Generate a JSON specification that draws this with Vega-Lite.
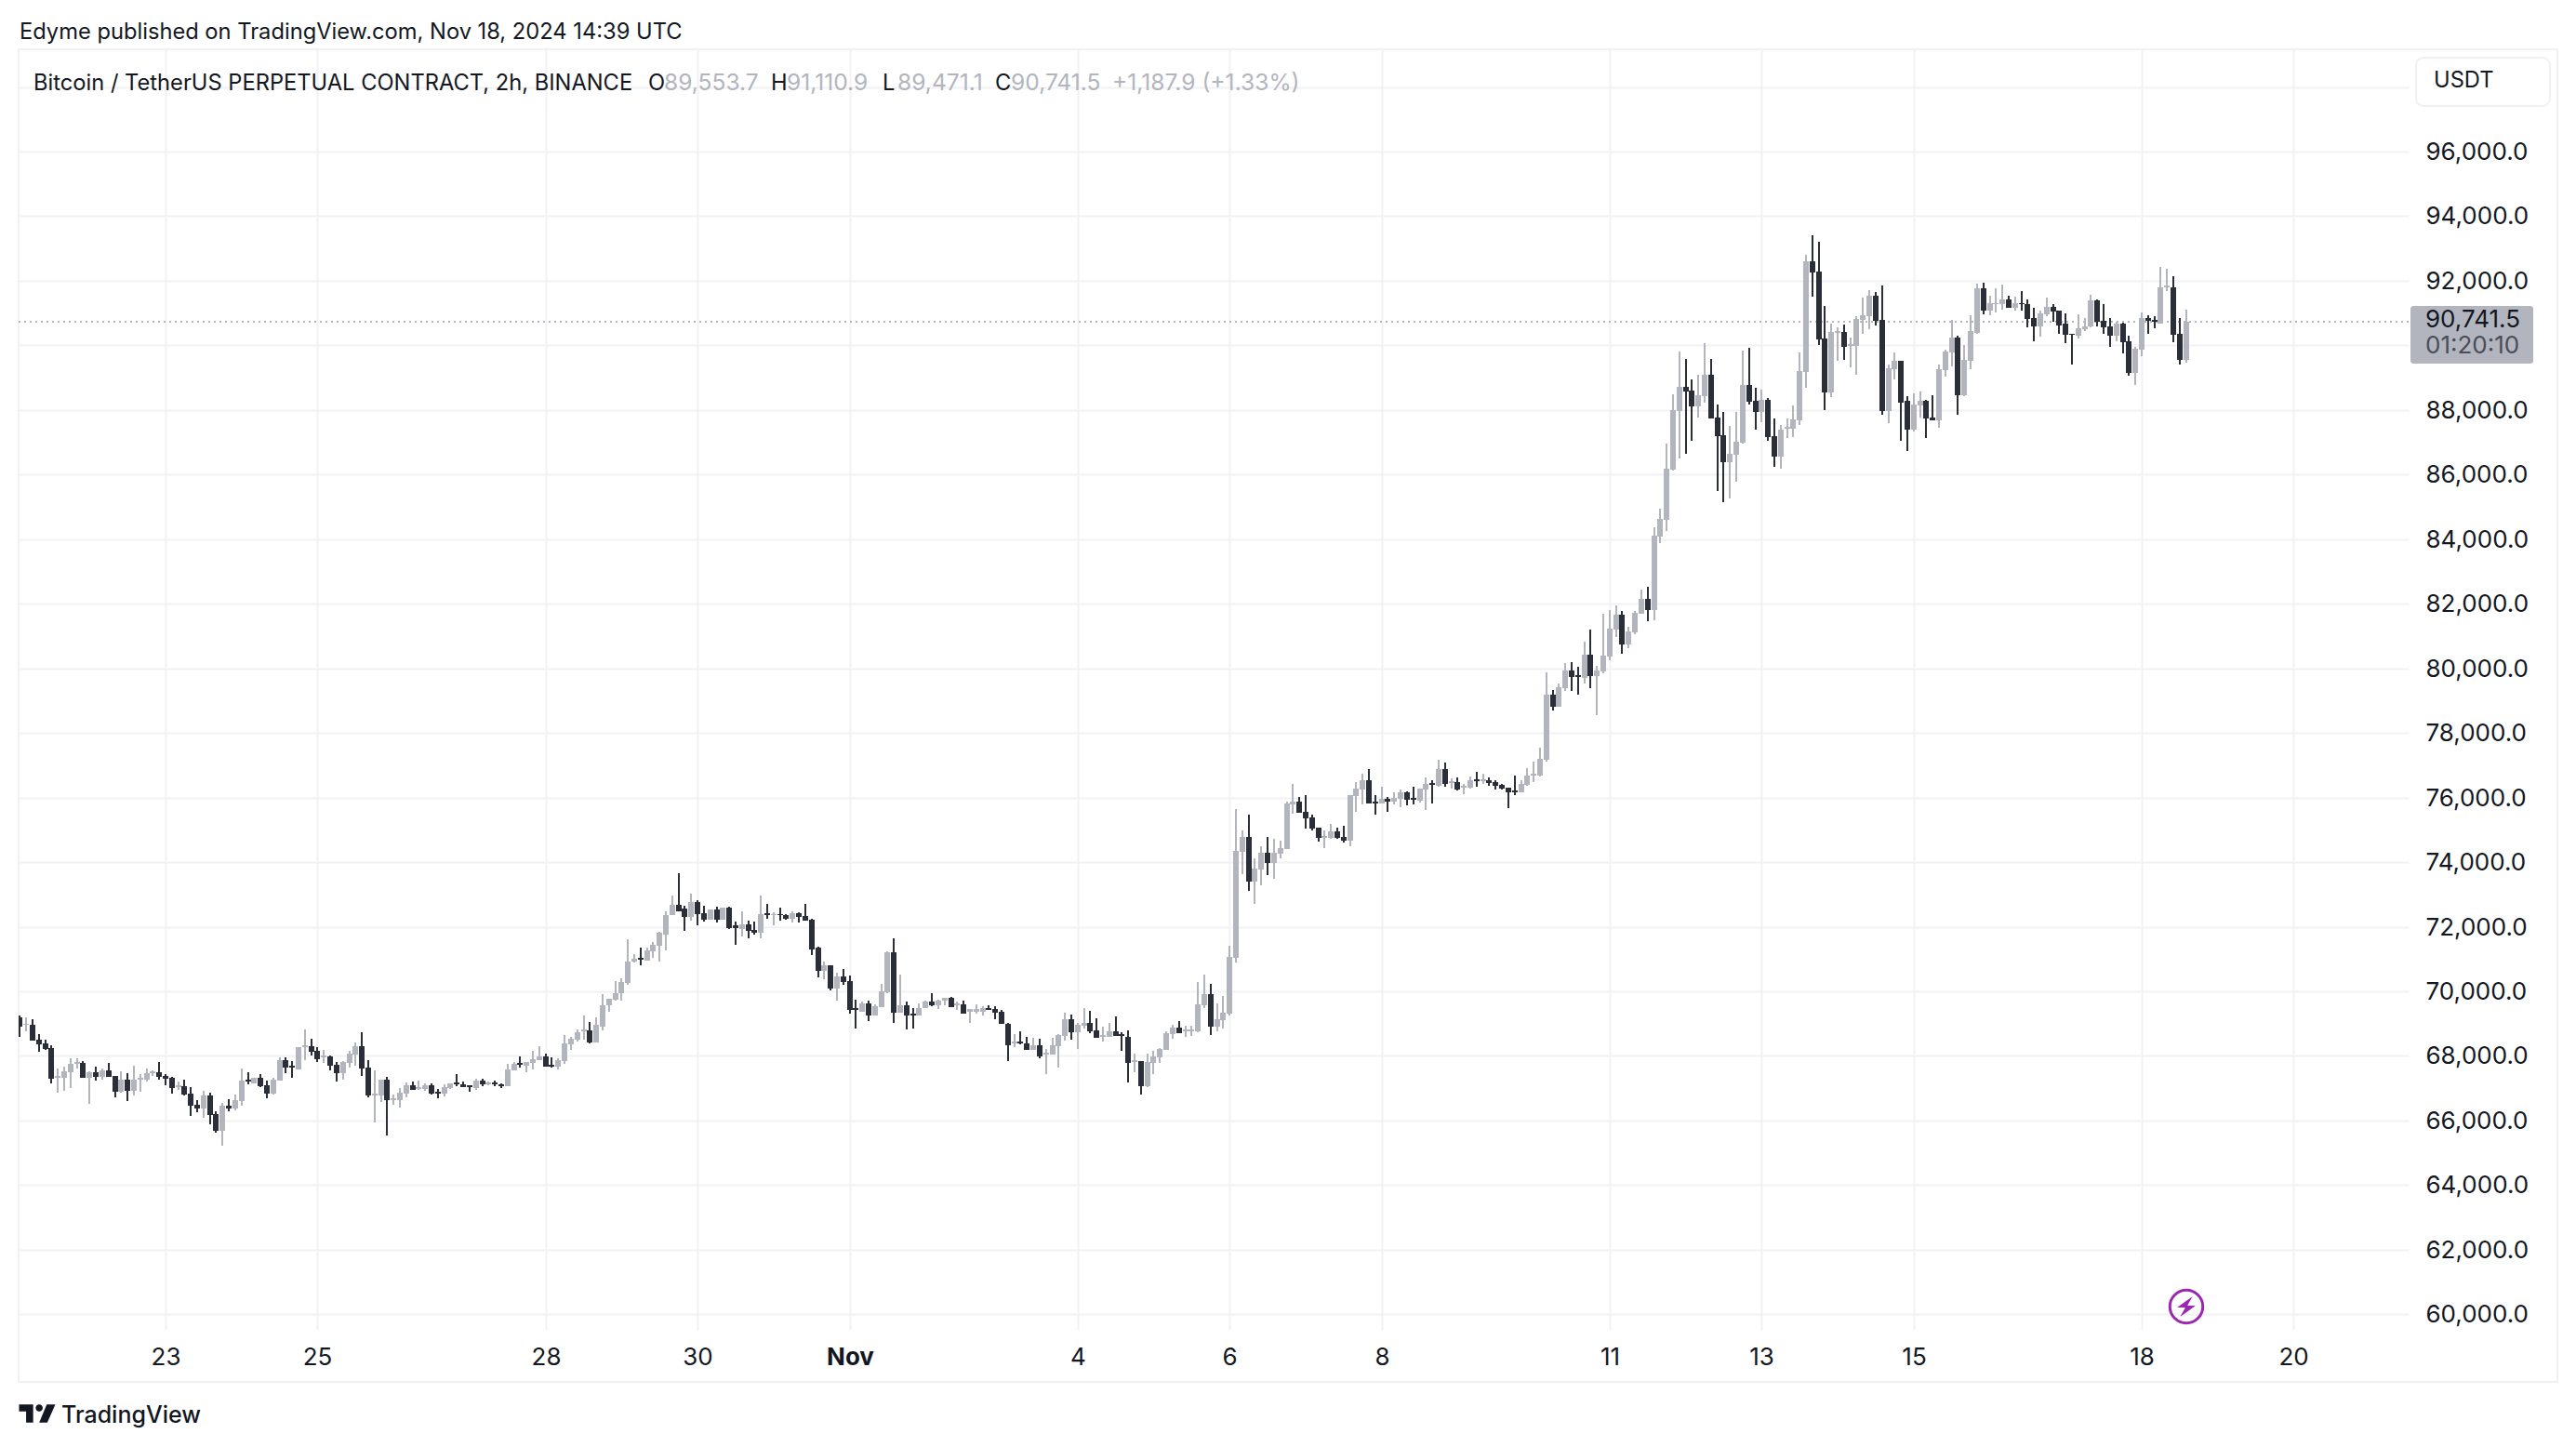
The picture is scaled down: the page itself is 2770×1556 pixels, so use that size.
{"$schema":"https://vega.github.io/schema/vega-lite/v6.json","width":2570,"height":1377,"autosize":{"type":"none"},"padding":{"left":20,"top":53,"right":180,"bottom":126},"background":"white","config":{"view":{"stroke":null},"font":"Inter"},
"datasets":{"candles":[
{"t":"2024-10-21T02:00Z","o":69200,"h":69250,"l":68600,"c":68910},
{"t":"2024-10-21T04:00Z","o":68950,"h":69190,"l":68770,"c":69000},
{"t":"2024-10-21T06:00Z","o":68970,"h":69140,"l":68470,"c":68480},
{"t":"2024-10-21T08:00Z","o":68510,"h":68680,"l":68130,"c":68360},
{"t":"2024-10-21T10:00Z","o":68390,"h":68500,"l":68200,"c":68210},
{"t":"2024-10-21T12:00Z","o":68240,"h":68330,"l":67150,"c":67300},
{"t":"2024-10-21T14:00Z","o":67330,"h":67620,"l":66870,"c":67390},
{"t":"2024-10-21T16:00Z","o":67330,"h":67670,"l":66920,"c":67530},
{"t":"2024-10-21T18:00Z","o":67500,"h":67920,"l":67010,"c":67760},
{"t":"2024-10-21T20:00Z","o":67760,"h":67920,"l":67620,"c":67820},
{"t":"2024-10-21T22:00Z","o":67780,"h":67840,"l":67330,"c":67330},
{"t":"2024-10-22T00:00Z","o":67330,"h":67530,"l":66520,"c":67500},
{"t":"2024-10-22T02:00Z","o":67500,"h":67670,"l":67240,"c":67360},
{"t":"2024-10-22T04:00Z","o":67360,"h":67620,"l":67270,"c":67560},
{"t":"2024-10-22T06:00Z","o":67560,"h":67790,"l":67360,"c":67360},
{"t":"2024-10-22T08:00Z","o":67390,"h":67390,"l":66720,"c":66900},
{"t":"2024-10-22T10:00Z","o":66900,"h":67530,"l":66870,"c":67270},
{"t":"2024-10-22T12:00Z","o":67270,"h":67470,"l":66610,"c":66920},
{"t":"2024-10-22T14:00Z","o":66920,"h":67700,"l":66780,"c":67270},
{"t":"2024-10-22T16:00Z","o":67270,"h":67440,"l":66900,"c":67330},
{"t":"2024-10-22T18:00Z","o":67270,"h":67620,"l":67210,"c":67470},
{"t":"2024-10-22T20:00Z","o":67470,"h":67560,"l":67390,"c":67530},
{"t":"2024-10-22T22:00Z","o":67500,"h":67820,"l":67270,"c":67360},
{"t":"2024-10-23T00:00Z","o":67390,"h":67440,"l":67100,"c":67300},
{"t":"2024-10-23T02:00Z","o":67330,"h":67360,"l":66840,"c":67010},
{"t":"2024-10-23T04:00Z","o":67040,"h":67210,"l":66950,"c":67090},
{"t":"2024-10-23T06:00Z","o":67070,"h":67270,"l":66780,"c":66810},
{"t":"2024-10-23T08:00Z","o":66840,"h":67040,"l":66150,"c":66460},
{"t":"2024-10-23T10:00Z","o":66490,"h":66640,"l":66260,"c":66380},
{"t":"2024-10-23T12:00Z","o":66380,"h":66920,"l":66090,"c":66780},
{"t":"2024-10-23T14:00Z","o":66780,"h":66870,"l":65890,"c":66180},
{"t":"2024-10-23T16:00Z","o":66200,"h":66290,"l":65630,"c":65690},
{"t":"2024-10-23T18:00Z","o":65690,"h":66550,"l":65230,"c":66460},
{"t":"2024-10-23T20:00Z","o":66460,"h":66670,"l":66290,"c":66380},
{"t":"2024-10-23T22:00Z","o":66380,"h":66810,"l":66320,"c":66640},
{"t":"2024-10-24T00:00Z","o":66610,"h":67620,"l":66460,"c":67240},
{"t":"2024-10-24T02:00Z","o":67270,"h":67500,"l":67130,"c":67210},
{"t":"2024-10-24T04:00Z","o":67150,"h":67330,"l":67150,"c":67330},
{"t":"2024-10-24T06:00Z","o":67330,"h":67440,"l":67040,"c":67070},
{"t":"2024-10-24T08:00Z","o":67100,"h":67240,"l":66690,"c":66840},
{"t":"2024-10-24T10:00Z","o":66840,"h":67330,"l":66810,"c":67270},
{"t":"2024-10-24T12:00Z","o":67240,"h":67960,"l":67240,"c":67880},
{"t":"2024-10-24T14:00Z","o":67880,"h":67960,"l":67470,"c":67640},
{"t":"2024-10-24T16:00Z","o":67700,"h":67850,"l":67330,"c":67640},
{"t":"2024-10-24T18:00Z","o":67590,"h":68280,"l":67590,"c":68280},
{"t":"2024-10-24T20:00Z","o":68280,"h":68830,"l":67880,"c":68340},
{"t":"2024-10-24T22:00Z","o":68310,"h":68540,"l":68020,"c":68130},
{"t":"2024-10-25T00:00Z","o":68160,"h":68280,"l":67820,"c":67900},
{"t":"2024-10-25T02:00Z","o":67960,"h":68190,"l":67790,"c":68020},
{"t":"2024-10-25T04:00Z","o":67990,"h":68020,"l":67560,"c":67700},
{"t":"2024-10-25T06:00Z","o":67730,"h":67820,"l":67210,"c":67470},
{"t":"2024-10-25T08:00Z","o":67470,"h":67850,"l":67270,"c":67820},
{"t":"2024-10-25T10:00Z","o":67790,"h":68160,"l":67640,"c":68080},
{"t":"2024-10-25T12:00Z","o":68050,"h":68420,"l":67700,"c":68310},
{"t":"2024-10-25T14:00Z","o":68310,"h":68740,"l":67390,"c":67620},
{"t":"2024-10-25T16:00Z","o":67640,"h":67880,"l":66720,"c":66780},
{"t":"2024-10-25T18:00Z","o":66780,"h":67560,"l":65950,"c":66840},
{"t":"2024-10-25T20:00Z","o":66780,"h":67270,"l":66580,"c":67270},
{"t":"2024-10-25T22:00Z","o":67270,"h":67360,"l":65540,"c":66640},
{"t":"2024-10-26T00:00Z","o":66640,"h":66810,"l":66490,"c":66690},
{"t":"2024-10-26T02:00Z","o":66640,"h":67010,"l":66410,"c":66870},
{"t":"2024-10-26T04:00Z","o":66840,"h":67180,"l":66720,"c":67100},
{"t":"2024-10-26T06:00Z","o":67100,"h":67210,"l":66950,"c":66950},
{"t":"2024-10-26T08:00Z","o":66980,"h":67240,"l":66950,"c":67040},
{"t":"2024-10-26T10:00Z","o":66980,"h":67150,"l":66920,"c":67100},
{"t":"2024-10-26T12:00Z","o":67100,"h":67150,"l":66810,"c":66840},
{"t":"2024-10-26T14:00Z","o":66900,"h":66980,"l":66690,"c":66840},
{"t":"2024-10-26T16:00Z","o":66840,"h":67130,"l":66750,"c":67040},
{"t":"2024-10-26T18:00Z","o":67010,"h":67150,"l":66980,"c":67150},
{"t":"2024-10-26T20:00Z","o":67180,"h":67440,"l":67070,"c":67130},
{"t":"2024-10-26T22:00Z","o":67130,"h":67210,"l":67040,"c":67040},
{"t":"2024-10-27T00:00Z","o":67100,"h":67100,"l":66900,"c":67040},
{"t":"2024-10-27T02:00Z","o":67010,"h":67300,"l":66950,"c":67240},
{"t":"2024-10-27T04:00Z","o":67240,"h":67300,"l":67070,"c":67130},
{"t":"2024-10-27T06:00Z","o":67130,"h":67210,"l":67100,"c":67180},
{"t":"2024-10-27T08:00Z","o":67180,"h":67240,"l":67070,"c":67130},
{"t":"2024-10-27T10:00Z","o":67130,"h":67150,"l":67010,"c":67070},
{"t":"2024-10-27T12:00Z","o":67070,"h":67760,"l":67070,"c":67590},
{"t":"2024-10-27T14:00Z","o":67560,"h":67820,"l":67560,"c":67760},
{"t":"2024-10-27T16:00Z","o":67790,"h":67990,"l":67640,"c":67730},
{"t":"2024-10-27T18:00Z","o":67700,"h":67820,"l":67500,"c":67820},
{"t":"2024-10-27T20:00Z","o":67790,"h":68160,"l":67590,"c":67900},
{"t":"2024-10-27T22:00Z","o":67880,"h":68310,"l":67880,"c":67990},
{"t":"2024-10-28T00:00Z","o":67990,"h":68080,"l":67670,"c":67670},
{"t":"2024-10-28T02:00Z","o":67730,"h":67960,"l":67640,"c":67670},
{"t":"2024-10-28T04:00Z","o":67670,"h":67930,"l":67590,"c":67880},
{"t":"2024-10-28T06:00Z","o":67850,"h":68650,"l":67760,"c":68390},
{"t":"2024-10-28T08:00Z","o":68360,"h":68600,"l":68190,"c":68540},
{"t":"2024-10-28T10:00Z","o":68510,"h":68830,"l":68450,"c":68740},
{"t":"2024-10-28T12:00Z","o":68770,"h":69260,"l":68510,"c":68830},
{"t":"2024-10-28T14:00Z","o":68800,"h":69060,"l":68390,"c":68420},
{"t":"2024-10-28T16:00Z","o":68430,"h":69180,"l":68430,"c":68950},
{"t":"2024-10-28T18:00Z","o":68920,"h":69900,"l":68800,"c":69580},
{"t":"2024-10-28T20:00Z","o":69580,"h":69780,"l":69380,"c":69780},
{"t":"2024-10-28T22:00Z","o":69750,"h":70330,"l":69700,"c":69950},
{"t":"2024-10-29T00:00Z","o":69930,"h":70390,"l":69720,"c":70300},
{"t":"2024-10-29T02:00Z","o":70270,"h":71600,"l":70190,"c":70930},
{"t":"2024-10-29T04:00Z","o":70910,"h":71140,"l":70880,"c":71020},
{"t":"2024-10-29T06:00Z","o":71050,"h":71340,"l":70820,"c":70990},
{"t":"2024-10-29T08:00Z","o":70960,"h":71340,"l":70960,"c":71280},
{"t":"2024-10-29T10:00Z","o":71250,"h":71540,"l":71050,"c":71450},
{"t":"2024-10-29T12:00Z","o":71420,"h":71830,"l":70910,"c":71800},
{"t":"2024-10-29T14:00Z","o":71770,"h":72490,"l":71280,"c":72370},
{"t":"2024-10-29T16:00Z","o":72350,"h":72980,"l":72350,"c":72690},
{"t":"2024-10-29T18:00Z","o":72690,"h":73670,"l":72490,"c":72490},
{"t":"2024-10-29T20:00Z","o":72550,"h":72660,"l":71880,"c":72290},
{"t":"2024-10-29T22:00Z","o":72290,"h":73010,"l":72200,"c":72750},
{"t":"2024-10-30T00:00Z","o":72750,"h":72810,"l":72030,"c":72400},
{"t":"2024-10-30T02:00Z","o":72430,"h":72660,"l":72170,"c":72230},
{"t":"2024-10-30T04:00Z","o":72230,"h":72520,"l":72230,"c":72520},
{"t":"2024-10-30T06:00Z","o":72520,"h":72630,"l":72120,"c":72230},
{"t":"2024-10-30T08:00Z","o":72230,"h":72600,"l":72230,"c":72600},
{"t":"2024-10-30T10:00Z","o":72600,"h":72630,"l":71940,"c":71970},
{"t":"2024-10-30T12:00Z","o":72030,"h":72170,"l":71450,"c":71970},
{"t":"2024-10-30T14:00Z","o":71940,"h":72490,"l":71710,"c":72060},
{"t":"2024-10-30T16:00Z","o":72060,"h":72200,"l":71650,"c":71880},
{"t":"2024-10-30T18:00Z","o":71910,"h":72170,"l":71770,"c":71800},
{"t":"2024-10-30T20:00Z","o":71800,"h":72980,"l":71630,"c":72400},
{"t":"2024-10-30T22:00Z","o":72430,"h":72720,"l":72260,"c":72370},
{"t":"2024-10-31T00:00Z","o":72350,"h":72460,"l":72030,"c":72400},
{"t":"2024-10-31T02:00Z","o":72400,"h":72600,"l":72200,"c":72350},
{"t":"2024-10-31T04:00Z","o":72370,"h":72400,"l":72230,"c":72260},
{"t":"2024-10-31T06:00Z","o":72260,"h":72490,"l":72140,"c":72430},
{"t":"2024-10-31T08:00Z","o":72430,"h":72460,"l":72140,"c":72290},
{"t":"2024-10-31T10:00Z","o":72320,"h":72720,"l":72200,"c":72200},
{"t":"2024-10-31T12:00Z","o":72230,"h":72260,"l":71110,"c":71310},
{"t":"2024-10-31T14:00Z","o":71340,"h":71370,"l":70440,"c":70620},
{"t":"2024-10-31T16:00Z","o":70620,"h":70930,"l":70360,"c":70820},
{"t":"2024-10-31T18:00Z","o":70820,"h":70820,"l":70040,"c":70100},
{"t":"2024-10-31T20:00Z","o":70100,"h":70590,"l":69700,"c":70470},
{"t":"2024-10-31T22:00Z","o":70470,"h":70680,"l":70190,"c":70300},
{"t":"2024-11-01T00:00Z","o":70330,"h":70500,"l":69320,"c":69410},
{"t":"2024-11-01T02:00Z","o":69470,"h":69750,"l":68860,"c":69410},
{"t":"2024-11-01T04:00Z","o":69380,"h":69670,"l":69380,"c":69640},
{"t":"2024-11-01T06:00Z","o":69640,"h":69720,"l":69090,"c":69260},
{"t":"2024-11-01T08:00Z","o":69260,"h":69610,"l":69260,"c":69550},
{"t":"2024-11-01T10:00Z","o":69520,"h":70240,"l":69520,"c":70010},
{"t":"2024-11-01T12:00Z","o":69980,"h":71250,"l":69930,"c":71220},
{"t":"2024-11-01T14:00Z","o":71220,"h":71650,"l":69030,"c":69350},
{"t":"2024-11-01T16:00Z","o":69350,"h":70530,"l":69350,"c":69580},
{"t":"2024-11-01T18:00Z","o":69580,"h":69670,"l":68830,"c":69260},
{"t":"2024-11-01T20:00Z","o":69320,"h":69470,"l":68860,"c":69260},
{"t":"2024-11-01T22:00Z","o":69240,"h":69640,"l":69240,"c":69490},
{"t":"2024-11-02T00:00Z","o":69470,"h":69700,"l":69470,"c":69670},
{"t":"2024-11-02T02:00Z","o":69670,"h":69930,"l":69550,"c":69580},
{"t":"2024-11-02T04:00Z","o":69580,"h":69750,"l":69440,"c":69720},
{"t":"2024-11-02T06:00Z","o":69700,"h":69810,"l":69580,"c":69810},
{"t":"2024-11-02T08:00Z","o":69810,"h":69840,"l":69520,"c":69520},
{"t":"2024-11-02T10:00Z","o":69580,"h":69670,"l":69410,"c":69640},
{"t":"2024-11-02T12:00Z","o":69610,"h":69700,"l":69320,"c":69320},
{"t":"2024-11-02T14:00Z","o":69380,"h":69440,"l":69030,"c":69440},
{"t":"2024-11-02T16:00Z","o":69380,"h":69610,"l":69320,"c":69440},
{"t":"2024-11-02T18:00Z","o":69380,"h":69550,"l":69240,"c":69490},
{"t":"2024-11-02T20:00Z","o":69490,"h":69580,"l":69410,"c":69410},
{"t":"2024-11-02T22:00Z","o":69440,"h":69550,"l":69150,"c":69350},
{"t":"2024-11-03T00:00Z","o":69380,"h":69410,"l":68980,"c":68980},
{"t":"2024-11-03T02:00Z","o":68990,"h":69020,"l":67840,"c":68330},
{"t":"2024-11-03T04:00Z","o":68390,"h":68680,"l":68270,"c":68440},
{"t":"2024-11-03T06:00Z","o":68440,"h":68760,"l":68360,"c":68390},
{"t":"2024-11-03T08:00Z","o":68390,"h":68590,"l":68190,"c":68190},
{"t":"2024-11-03T10:00Z","o":68190,"h":68560,"l":68190,"c":68330},
{"t":"2024-11-03T12:00Z","o":68330,"h":68530,"l":67930,"c":67980},
{"t":"2024-11-03T14:00Z","o":68040,"h":68210,"l":67440,"c":68100},
{"t":"2024-11-03T16:00Z","o":68040,"h":68560,"l":68040,"c":68330},
{"t":"2024-11-03T18:00Z","o":68300,"h":68680,"l":67640,"c":68650},
{"t":"2024-11-03T20:00Z","o":68620,"h":69340,"l":68470,"c":69140},
{"t":"2024-11-03T22:00Z","o":69140,"h":69280,"l":68500,"c":68730},
{"t":"2024-11-04T00:00Z","o":68730,"h":69020,"l":68210,"c":68960},
{"t":"2024-11-04T02:00Z","o":68930,"h":69480,"l":68850,"c":69020},
{"t":"2024-11-04T04:00Z","o":69020,"h":69400,"l":68700,"c":68760},
{"t":"2024-11-04T06:00Z","o":68790,"h":69160,"l":68560,"c":68560},
{"t":"2024-11-04T08:00Z","o":68590,"h":68910,"l":68440,"c":68650},
{"t":"2024-11-04T10:00Z","o":68590,"h":69020,"l":68590,"c":68760},
{"t":"2024-11-04T12:00Z","o":68760,"h":69220,"l":68620,"c":68620},
{"t":"2024-11-04T14:00Z","o":68680,"h":68730,"l":68160,"c":68620},
{"t":"2024-11-04T16:00Z","o":68590,"h":68790,"l":67180,"c":67780},
{"t":"2024-11-04T18:00Z","o":67810,"h":68070,"l":67490,"c":67870},
{"t":"2024-11-04T20:00Z","o":67840,"h":67840,"l":66800,"c":67060},
{"t":"2024-11-04T22:00Z","o":67060,"h":68070,"l":67030,"c":67810},
{"t":"2024-11-05T00:00Z","o":67780,"h":68160,"l":67440,"c":67980},
{"t":"2024-11-05T02:00Z","o":67960,"h":68240,"l":67780,"c":68210},
{"t":"2024-11-05T04:00Z","o":68190,"h":68760,"l":68190,"c":68700},
{"t":"2024-11-05T06:00Z","o":68680,"h":68960,"l":68530,"c":68880},
{"t":"2024-11-05T08:00Z","o":68880,"h":69080,"l":68700,"c":68700},
{"t":"2024-11-05T10:00Z","o":68760,"h":68930,"l":68590,"c":68820},
{"t":"2024-11-05T12:00Z","o":68760,"h":68930,"l":68620,"c":68820},
{"t":"2024-11-05T14:00Z","o":68760,"h":70290,"l":68730,"c":69600},
{"t":"2024-11-05T16:00Z","o":69570,"h":70520,"l":69480,"c":69910},
{"t":"2024-11-05T18:00Z","o":69910,"h":70230,"l":68650,"c":68910},
{"t":"2024-11-05T20:00Z","o":68910,"h":69630,"l":68760,"c":69140},
{"t":"2024-11-05T22:00Z","o":69110,"h":69860,"l":68850,"c":69340},
{"t":"2024-11-06T00:00Z","o":69310,"h":71410,"l":69250,"c":71070},
{"t":"2024-11-06T02:00Z","o":71040,"h":75650,"l":70900,"c":74350},
{"t":"2024-11-06T04:00Z","o":74320,"h":74980,"l":73630,"c":74780},
{"t":"2024-11-06T06:00Z","o":74780,"h":75470,"l":73110,"c":73400},
{"t":"2024-11-06T08:00Z","o":73400,"h":74120,"l":72710,"c":73800},
{"t":"2024-11-06T10:00Z","o":73770,"h":74490,"l":73280,"c":74290},
{"t":"2024-11-06T12:00Z","o":74290,"h":74780,"l":73600,"c":73970},
{"t":"2024-11-06T14:00Z","o":73970,"h":74720,"l":73480,"c":74290},
{"t":"2024-11-06T16:00Z","o":74260,"h":74670,"l":74120,"c":74440},
{"t":"2024-11-06T18:00Z","o":74410,"h":75880,"l":74410,"c":75820},
{"t":"2024-11-06T20:00Z","o":75790,"h":76420,"l":75500,"c":75880},
{"t":"2024-11-06T22:00Z","o":75880,"h":76020,"l":75530,"c":75530},
{"t":"2024-11-07T00:00Z","o":75560,"h":76080,"l":75040,"c":75360},
{"t":"2024-11-07T02:00Z","o":75390,"h":75470,"l":74980,"c":75040},
{"t":"2024-11-07T04:00Z","o":75070,"h":75070,"l":74640,"c":74750},
{"t":"2024-11-07T06:00Z","o":74750,"h":74980,"l":74440,"c":74810},
{"t":"2024-11-07T08:00Z","o":74750,"h":75180,"l":74720,"c":74950},
{"t":"2024-11-07T10:00Z","o":74950,"h":75070,"l":74720,"c":74750},
{"t":"2024-11-07T12:00Z","o":74780,"h":75130,"l":74610,"c":74670},
{"t":"2024-11-07T14:00Z","o":74670,"h":76080,"l":74490,"c":76080},
{"t":"2024-11-07T16:00Z","o":76050,"h":76480,"l":75560,"c":76280},
{"t":"2024-11-07T18:00Z","o":76250,"h":76740,"l":75790,"c":76540},
{"t":"2024-11-07T20:00Z","o":76540,"h":76880,"l":75820,"c":75820},
{"t":"2024-11-07T22:00Z","o":75880,"h":76080,"l":75470,"c":75820},
{"t":"2024-11-08T00:00Z","o":75820,"h":76340,"l":75820,"c":75960},
{"t":"2024-11-08T02:00Z","o":75960,"h":76020,"l":75560,"c":75880},
{"t":"2024-11-08T04:00Z","o":75880,"h":76160,"l":75790,"c":75990},
{"t":"2024-11-08T06:00Z","o":75960,"h":76250,"l":75700,"c":76160},
{"t":"2024-11-08T08:00Z","o":76160,"h":76190,"l":75760,"c":75930},
{"t":"2024-11-08T10:00Z","o":75990,"h":76340,"l":75790,"c":75930},
{"t":"2024-11-08T12:00Z","o":75900,"h":76280,"l":75850,"c":76280},
{"t":"2024-11-08T14:00Z","o":76250,"h":76620,"l":75620,"c":76420},
{"t":"2024-11-08T16:00Z","o":76450,"h":76540,"l":75820,"c":76390},
{"t":"2024-11-08T18:00Z","o":76360,"h":77170,"l":76340,"c":76880},
{"t":"2024-11-08T20:00Z","o":76880,"h":77080,"l":76340,"c":76420},
{"t":"2024-11-08T22:00Z","o":76450,"h":76600,"l":76280,"c":76510},
{"t":"2024-11-09T00:00Z","o":76480,"h":76620,"l":76220,"c":76250},
{"t":"2024-11-09T02:00Z","o":76310,"h":76420,"l":76110,"c":76360},
{"t":"2024-11-09T04:00Z","o":76310,"h":76650,"l":76280,"c":76540},
{"t":"2024-11-09T06:00Z","o":76570,"h":76800,"l":76340,"c":76510},
{"t":"2024-11-09T08:00Z","o":76510,"h":76740,"l":76420,"c":76570},
{"t":"2024-11-09T10:00Z","o":76540,"h":76620,"l":76360,"c":76450},
{"t":"2024-11-09T12:00Z","o":76480,"h":76540,"l":76250,"c":76360},
{"t":"2024-11-09T14:00Z","o":76390,"h":76420,"l":76250,"c":76280},
{"t":"2024-11-09T16:00Z","o":76310,"h":76310,"l":75670,"c":76160},
{"t":"2024-11-09T18:00Z","o":76220,"h":76680,"l":76080,"c":76160},
{"t":"2024-11-09T20:00Z","o":76160,"h":76540,"l":76160,"c":76420},
{"t":"2024-11-09T22:00Z","o":76390,"h":76910,"l":76360,"c":76680},
{"t":"2024-11-10T00:00Z","o":76680,"h":77110,"l":76480,"c":76740},
{"t":"2024-11-10T02:00Z","o":76680,"h":77550,"l":76650,"c":77200},
{"t":"2024-11-10T04:00Z","o":77180,"h":79880,"l":77120,"c":79190},
{"t":"2024-11-10T06:00Z","o":79190,"h":79340,"l":78700,"c":78820},
{"t":"2024-11-10T08:00Z","o":78820,"h":79540,"l":78820,"c":79420},
{"t":"2024-11-10T10:00Z","o":79400,"h":80170,"l":79310,"c":79940},
{"t":"2024-11-10T12:00Z","o":79940,"h":80200,"l":79310,"c":79740},
{"t":"2024-11-10T14:00Z","o":79800,"h":80060,"l":79190,"c":79740},
{"t":"2024-11-10T16:00Z","o":79710,"h":80840,"l":79540,"c":80430},
{"t":"2024-11-10T18:00Z","o":80430,"h":81210,"l":79400,"c":79770},
{"t":"2024-11-10T20:00Z","o":79770,"h":80090,"l":78560,"c":79940},
{"t":"2024-11-10T22:00Z","o":79910,"h":81700,"l":79860,"c":80400},
{"t":"2024-11-11T00:00Z","o":80370,"h":81810,"l":80260,"c":81240},
{"t":"2024-11-11T02:00Z","o":81210,"h":81960,"l":80980,"c":81670},
{"t":"2024-11-11T04:00Z","o":81670,"h":81790,"l":80460,"c":80750},
{"t":"2024-11-11T06:00Z","o":80750,"h":81300,"l":80630,"c":81150},
{"t":"2024-11-11T08:00Z","o":81120,"h":81790,"l":81070,"c":81730},
{"t":"2024-11-11T10:00Z","o":81700,"h":82450,"l":81700,"c":82160},
{"t":"2024-11-11T12:00Z","o":82160,"h":82530,"l":81470,"c":81810},
{"t":"2024-11-11T14:00Z","o":81810,"h":84380,"l":81500,"c":84120},
{"t":"2024-11-11T16:00Z","o":84080,"h":84940,"l":83880,"c":84620},
{"t":"2024-11-11T18:00Z","o":84590,"h":86950,"l":84250,"c":86180},
{"t":"2024-11-11T20:00Z","o":86150,"h":88480,"l":86120,"c":87990},
{"t":"2024-11-11T22:00Z","o":87960,"h":89800,"l":86490,"c":88710},
{"t":"2024-11-12T00:00Z","o":88710,"h":89570,"l":86640,"c":88570},
{"t":"2024-11-12T02:00Z","o":88600,"h":88940,"l":87040,"c":88110},
{"t":"2024-11-12T04:00Z","o":88110,"h":89080,"l":87760,"c":88450},
{"t":"2024-11-12T06:00Z","o":88420,"h":90060,"l":88220,"c":89080},
{"t":"2024-11-12T08:00Z","o":89080,"h":89570,"l":87730,"c":87730},
{"t":"2024-11-12T10:00Z","o":87760,"h":88160,"l":85480,"c":87180},
{"t":"2024-11-12T12:00Z","o":87210,"h":87930,"l":85140,"c":86380},
{"t":"2024-11-12T14:00Z","o":86380,"h":87500,"l":85250,"c":86640},
{"t":"2024-11-12T16:00Z","o":86610,"h":87930,"l":85770,"c":87010},
{"t":"2024-11-12T18:00Z","o":86980,"h":89830,"l":86950,"c":88770},
{"t":"2024-11-12T20:00Z","o":88770,"h":89920,"l":88160,"c":88250},
{"t":"2024-11-12T22:00Z","o":88280,"h":88680,"l":87390,"c":87930},
{"t":"2024-11-13T00:00Z","o":87930,"h":88620,"l":87620,"c":88310},
{"t":"2024-11-13T02:00Z","o":88310,"h":88360,"l":87040,"c":87160},
{"t":"2024-11-13T04:00Z","o":87180,"h":87730,"l":86230,"c":86550},
{"t":"2024-11-13T06:00Z","o":86550,"h":87530,"l":86180,"c":87390},
{"t":"2024-11-13T08:00Z","o":87410,"h":87730,"l":87130,"c":87470},
{"t":"2024-11-13T10:00Z","o":87410,"h":88130,"l":87160,"c":87700},
{"t":"2024-11-13T12:00Z","o":87670,"h":89780,"l":87530,"c":89200},
{"t":"2024-11-13T14:00Z","o":89170,"h":92800,"l":88680,"c":92600},
{"t":"2024-11-13T16:00Z","o":92600,"h":93400,"l":91500,"c":92250},
{"t":"2024-11-13T18:00Z","o":92280,"h":93200,"l":90010,"c":90180},
{"t":"2024-11-13T20:00Z","o":90210,"h":91220,"l":87990,"c":88540},
{"t":"2024-11-13T22:00Z","o":88540,"h":90670,"l":88390,"c":90410},
{"t":"2024-11-14T00:00Z","o":90380,"h":90550,"l":89520,"c":90440},
{"t":"2024-11-14T02:00Z","o":90410,"h":90640,"l":89550,"c":89950},
{"t":"2024-11-14T04:00Z","o":89980,"h":90240,"l":89320,"c":90040},
{"t":"2024-11-14T06:00Z","o":89980,"h":90900,"l":89080,"c":90810},
{"t":"2024-11-14T08:00Z","o":90780,"h":91480,"l":90350,"c":90930},
{"t":"2024-11-14T10:00Z","o":90900,"h":91710,"l":90500,"c":91530},
{"t":"2024-11-14T12:00Z","o":91530,"h":91650,"l":90610,"c":90760},
{"t":"2024-11-14T14:00Z","o":90790,"h":91860,"l":87860,"c":87970},
{"t":"2024-11-14T16:00Z","o":87980,"h":89420,"l":87580,"c":89280},
{"t":"2024-11-14T18:00Z","o":89250,"h":89770,"l":88960,"c":89510},
{"t":"2024-11-14T20:00Z","o":89510,"h":89510,"l":87060,"c":88240},
{"t":"2024-11-14T22:00Z","o":88270,"h":88420,"l":86720,"c":87380},
{"t":"2024-11-15T00:00Z","o":87380,"h":88500,"l":87320,"c":88160},
{"t":"2024-11-15T02:00Z","o":88130,"h":88560,"l":87780,"c":88270},
{"t":"2024-11-15T04:00Z","o":88270,"h":88300,"l":87120,"c":87750},
{"t":"2024-11-15T06:00Z","o":87780,"h":88470,"l":87670,"c":87670},
{"t":"2024-11-15T08:00Z","o":87670,"h":89420,"l":87440,"c":89250},
{"t":"2024-11-15T10:00Z","o":89220,"h":89860,"l":89020,"c":89800},
{"t":"2024-11-15T12:00Z","o":89770,"h":90780,"l":89340,"c":90230},
{"t":"2024-11-15T14:00Z","o":90230,"h":90290,"l":87840,"c":88470},
{"t":"2024-11-15T16:00Z","o":88470,"h":90000,"l":88440,"c":89540},
{"t":"2024-11-15T18:00Z","o":89510,"h":90920,"l":89250,"c":90430},
{"t":"2024-11-15T20:00Z","o":90400,"h":91900,"l":90370,"c":91760},
{"t":"2024-11-15T22:00Z","o":91760,"h":91930,"l":90950,"c":91070},
{"t":"2024-11-16T00:00Z","o":91070,"h":91530,"l":90920,"c":91300},
{"t":"2024-11-16T02:00Z","o":91270,"h":91760,"l":91010,"c":91320},
{"t":"2024-11-16T04:00Z","o":91270,"h":91870,"l":91120,"c":91410},
{"t":"2024-11-16T06:00Z","o":91410,"h":91530,"l":91150,"c":91150},
{"t":"2024-11-16T08:00Z","o":91150,"h":91500,"l":91090,"c":91300},
{"t":"2024-11-16T10:00Z","o":91320,"h":91670,"l":91070,"c":91270},
{"t":"2024-11-16T12:00Z","o":91270,"h":91410,"l":90550,"c":90810},
{"t":"2024-11-16T14:00Z","o":90840,"h":91150,"l":90140,"c":90580},
{"t":"2024-11-16T16:00Z","o":90580,"h":91090,"l":90260,"c":90980},
{"t":"2024-11-16T18:00Z","o":90950,"h":91470,"l":90890,"c":91180},
{"t":"2024-11-16T20:00Z","o":91180,"h":91270,"l":90720,"c":91040},
{"t":"2024-11-16T22:00Z","o":91070,"h":91090,"l":90370,"c":90630},
{"t":"2024-11-17T00:00Z","o":90660,"h":90980,"l":90060,"c":90320},
{"t":"2024-11-17T02:00Z","o":90370,"h":90370,"l":89420,"c":90320},
{"t":"2024-11-17T04:00Z","o":90290,"h":90950,"l":90200,"c":90520},
{"t":"2024-11-17T06:00Z","o":90490,"h":90860,"l":90430,"c":90600},
{"t":"2024-11-17T08:00Z","o":90580,"h":91560,"l":90550,"c":91380},
{"t":"2024-11-17T10:00Z","o":91380,"h":91410,"l":90580,"c":90720},
{"t":"2024-11-17T12:00Z","o":90750,"h":91270,"l":90370,"c":90550},
{"t":"2024-11-17T14:00Z","o":90580,"h":90840,"l":89940,"c":90290},
{"t":"2024-11-17T16:00Z","o":90290,"h":90720,"l":90140,"c":90660},
{"t":"2024-11-17T18:00Z","o":90660,"h":90690,"l":89740,"c":90090},
{"t":"2024-11-17T20:00Z","o":90120,"h":90290,"l":89050,"c":89160},
{"t":"2024-11-17T22:00Z","o":89160,"h":89940,"l":88760,"c":89910},
{"t":"2024-11-18T00:00Z","o":89880,"h":91010,"l":89680,"c":90840},
{"t":"2024-11-18T02:00Z","o":90840,"h":90920,"l":90370,"c":90750},
{"t":"2024-11-18T04:00Z","o":90780,"h":90890,"l":90520,"c":90720},
{"t":"2024-11-18T06:00Z","o":90660,"h":92420,"l":90660,"c":91810},
{"t":"2024-11-18T08:00Z","o":91790,"h":92360,"l":91670,"c":91840},
{"t":"2024-11-18T10:00Z","o":91810,"h":92130,"l":90090,"c":90320},
{"t":"2024-11-18T12:00Z","o":90350,"h":90840,"l":89420,"c":89540},
{"t":"2024-11-18T14:00Z","o":89553.7,"h":91110.9,"l":89471.1,"c":90741.5}
],
"words":[
{"t":"2024-10-21T01:54Z","p":99700,"text":"Edyme published on TradingView.com, Nov 18, 2024 14:39 UTC"},
{"t":"2024-10-21T06:18Z","p":98102,"text":"Bitcoin / TetherUS PERPETUAL CONTRACT, 2h, BINANCE"},
{"t":"2024-10-29T08:26Z","p":98102,"text":"O"},
{"t":"2024-10-30T23:12Z","p":98102,"text":"H"},
{"t":"2024-11-01T10:24Z","p":98102,"text":"L"},
{"t":"2024-11-02T22:00Z","p":98102,"text":"C"},
{"t":"2024-11-21T20:12Z","p":98188,"text":"USDT"}
],
"readings":[
{"t":"2024-10-29T13:26Z","p":98102,"text":"89,553.7"},
{"t":"2024-10-31T04:12Z","p":98102,"text":"91,110.9"},
{"t":"2024-11-01T15:06Z","p":98102,"text":"89,471.1"},
{"t":"2024-11-03T03:00Z","p":98102,"text":"90,741.5"},
{"t":"2024-11-04T11:00Z","p":98102,"text":"+1,187.9 (+1.33%)"}
],
"lastPrice":[
{"t":"2024-11-21T17:34Z","p":90789,"text":"90,741.5","tone":"ink"},
{"t":"2024-11-21T17:34Z","p":89992,"text":"01:20:10","tone":"clock"}
]},
"layer":[
{"data":{"values":[{"a":"2024-10-21T01:36Z","b":"2024-11-23T11:24Z","top":99168,"bottom":57911}]},
"mark":{"type":"rect","fill":"transparent","stroke":"#f0f0f5","strokeWidth":2},
"encoding":{"x":{"field":"a","type":"temporal","title":null},"x2":{"field":"b"},"y":{"field":"top","type":"quantitative","title":null},"y2":{"field":"bottom"}}},
{"data":{"values":[{"last":90741.5}]},
"mark":{"type":"rule","stroke":"#b2b5be","strokeWidth":2,"strokeDash":[2,4]},
"encoding":{"y":{"field":"last","type":"quantitative","title":null}}},
{"data":{"name":"candles"},
"mark":{"type":"rule","strokeWidth":2,"clip":true},
"encoding":{
"x":{"field":"t","type":"temporal","title":null,"scale":{"type":"utc","domain":["2024-10-21T01:36:00Z","2024-11-21T12:17:00Z"],"round":true,"padding":0,"nice":false},
"axis":{"values":[{"year":2024,"month":"oct","date":23,"utc":true},{"year":2024,"month":"oct","date":25,"utc":true},{"year":2024,"month":"oct","date":28,"utc":true},{"year":2024,"month":"oct","date":30,"utc":true},{"year":2024,"month":"nov","date":1,"utc":true},{"year":2024,"month":"nov","date":4,"utc":true},{"year":2024,"month":"nov","date":6,"utc":true},{"year":2024,"month":"nov","date":8,"utc":true},{"year":2024,"month":"nov","date":11,"utc":true},{"year":2024,"month":"nov","date":13,"utc":true},{"year":2024,"month":"nov","date":15,"utc":true},{"year":2024,"month":"nov","date":18,"utc":true},{"year":2024,"month":"nov","date":20,"utc":true}],
"labelExpr":"utcdate(datum.value)==1 ? 'Nov' : utcFormat(datum.value,'%-d')",
"labelFontWeight":{"condition":{"test":"utcdate(datum.value)==1","value":700},"value":400},
"labelFont":"Inter","labelFontSize":26,"labelColor":"#131722","labelPadding":16,"labelAngle":0,"labelOverlap":false,"labelFlush":false,"labelBound":false,"domain":false,"ticks":false,"grid":true,"gridColor":"#f2f2f5","gridWidth":2}},
"y":{"field":"h","type":"quantitative","title":null,"scale":{"domain":[59519,99168],"round":true,"nice":false,"zero":false},
"axis":{"orient":"right","values":[60000,62000,64000,66000,68000,70000,72000,74000,76000,78000,80000,82000,84000,86000,88000,90000,92000,94000,96000,98000],"labelExpr":"datum.value==98000 ? '' : format(datum.value,',.1f')","labelFont":"Inter","labelFontSize":26,"labelColor":"#131722","labelPadding":18,"labelOverlap":false,"labelFlush":false,"labelBound":false,"domain":false,"ticks":false,"grid":true,"gridColor":"#f2f2f5","gridWidth":2}},
"y2":{"field":"l"},
"color":{"condition":{"test":"datum.c<datum.o","value":"#2a2e39"},"value":"#b2b5be"}}},
{"data":{"name":"candles"},
"mark":{"type":"bar","size":6,"clip":true},
"encoding":{"x":{"field":"t","type":"temporal","title":null},"y":{"field":"o","type":"quantitative","title":null},"y2":{"field":"c"},
"color":{"condition":{"test":"datum.c<datum.o","value":"#2a2e39"},"value":"#b2b5be"}}},
{"data":{"values":[{"a":"2024-11-21T12:53Z","b":"2024-11-23T03:38Z","top":91221,"bottom":89436}]},
"mark":{"type":"rect","fill":"#b2b5be","cornerRadius":3},
"encoding":{"x":{"field":"a","type":"temporal","title":null},"x2":{"field":"b"},"y":{"field":"top","type":"quantitative","title":null},"y2":{"field":"bottom"}}},
{"data":{"values":[{"a":"2024-11-21T14:38Z","b":"2024-11-23T08:55Z","top":98908,"bottom":97411}]},
"mark":{"type":"rect","fill":"white","stroke":"#f0f0f5","strokeWidth":2,"cornerRadius":8},
"encoding":{"x":{"field":"a","type":"temporal","title":null},"x2":{"field":"b"},"y":{"field":"top","type":"quantitative","title":null},"y2":{"field":"bottom"}}},
{"data":{"name":"words"},
"mark":{"type":"text","font":"Inter","fontSize":23.7,"align":"left","baseline":"middle","color":"#131722"},
"encoding":{"x":{"field":"t","type":"temporal","title":null},"y":{"field":"p","type":"quantitative","title":null},"text":{"field":"text"}}},
{"data":{"name":"readings"},
"mark":{"type":"text","font":"Inter","fontSize":24.6,"align":"left","baseline":"middle","color":"#b2b5be"},
"encoding":{"x":{"field":"t","type":"temporal","title":null},"y":{"field":"p","type":"quantitative","title":null},"text":{"field":"text"}}},
{"data":{"name":"lastPrice"},
"mark":{"type":"text","font":"Inter","fontSize":26,"align":"left","baseline":"middle"},
"encoding":{"x":{"field":"t","type":"temporal","title":null},"y":{"field":"p","type":"quantitative","title":null},"text":{"field":"text"},
"color":{"field":"tone","type":"nominal","legend":null,"scale":{"domain":["ink","clock"],"range":["#131722","#4a4d57"]}}}},
{"data":{"values":[{"t":"2024-10-21T15:06Z","p":56875,"text":"TradingView"}]},
"mark":{"type":"text","font":"Inter","fontSize":25,"fontWeight":500,"align":"left","baseline":"middle","color":"#131722"},
"encoding":{"x":{"field":"t","type":"temporal","title":null},"y":{"field":"p","type":"quantitative","title":null},"text":{"field":"text"}}},
{"data":{"values":[{"t":"2024-10-21T07:20Z","p":56932}]},
"mark":{"type":"point","filled":true,"fill":"#131722","stroke":null,"size":1521,"opacity":1,"shape":"M-1,-0.5 L-0.222,-0.5 L-0.222,0.5 L-0.611,0.5 L-0.611,-0.111 L-1,-0.111 Z M0.111,0.5 L0.556,0.5 L1,-0.5 L0.528,-0.5 Z M-0.083,-0.306 A0.194,0.194 0 1 1 0.305,-0.306 A0.194,0.194 0 1 1 -0.083,-0.306 Z"},
"encoding":{"x":{"field":"t","type":"temporal","title":null},"y":{"field":"p","type":"quantitative","title":null}}},
{"data":{"values":[{"t":"2024-11-18T14:00Z","p":60243}]},
"mark":{"type":"point","shape":"circle","filled":false,"stroke":"#9c27b0","strokeWidth":3,"size":1257,"opacity":1},
"encoding":{"x":{"field":"t","type":"temporal","title":null},"y":{"field":"p","type":"quantitative","title":null}}},
{"data":{"values":[{"t":"2024-11-18T14:00Z","p":60243}]},
"mark":{"type":"point","filled":true,"fill":"#9c27b0","stroke":null,"size":484,"opacity":1,"shape":"M0.6,-1 L-0.9,0.1 L-0.1,0.1 L-0.6,1 L0.9,-0.1 L0.1,-0.1 Z"},
"encoding":{"x":{"field":"t","type":"temporal","title":null},"y":{"field":"p","type":"quantitative","title":null}}}
]}
